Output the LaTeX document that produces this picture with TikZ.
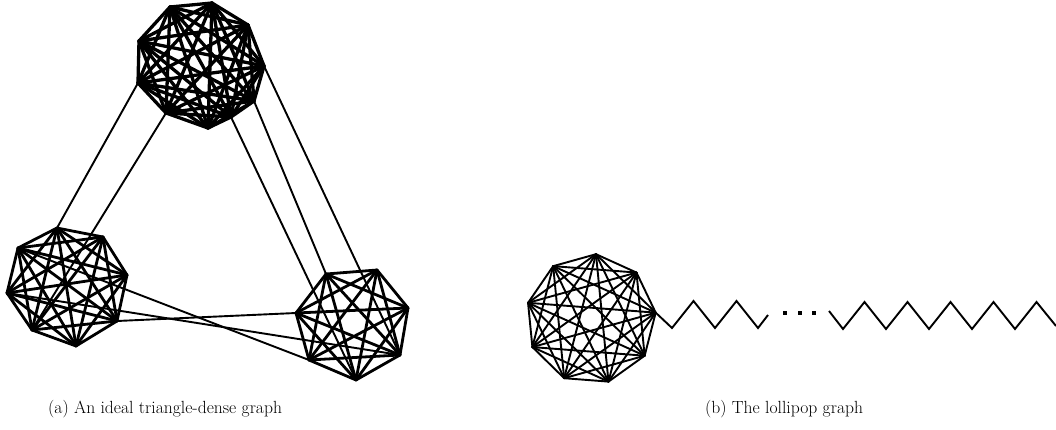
\documentclass[tikz,border=0pt]{standalone}
\usetikzlibrary{calc}
\begin{document}
\begin{tikzpicture}[x=1pt,y=-1pt,
  dense/.style={line width=3.3pt, line cap=round, line join=round},
  clique/.style={line width=2.8pt, line cap=round},
  bridge/.style={line width=1.9pt},
  lolli/.style={line width=1.9pt, line cap=round},
  zig/.style={line width=1.9pt, line join=miter},
  caption/.style={font=\fontsize{17.6}{21}\selectfont, anchor=base west, inner sep=0pt}]
\useasboundingbox (0,0) rectangle (1056,430);

% ---- top clique (10 vertices)
\coordinate (t0) at (264,66);
\coordinate (t1) at (254,101);
\coordinate (t2) at (231,117);
\coordinate (t3) at (208,128);
\coordinate (t4) at (166,113);
\coordinate (t5) at (138,83);
\coordinate (t6) at (139,41);
\coordinate (t7) at (170,7);
\coordinate (t8) at (212,3);
\coordinate (t9) at (248,25);
\foreach \i in {0,...,8}{
  \pgfmathtruncatemacro{\ni}{\i+1}
  \foreach \j in {\ni,...,9}{\draw[dense] (t\i) -- (t\j);}
}

% ---- bottom-left clique (8 vertices)
\coordinate (b0) at (57,228);
\coordinate (b1) at (103,237);
\coordinate (b2) at (127,275);
\coordinate (b3) at (117,321);
\coordinate (b4) at (76,346);
\coordinate (b5) at (32,330);
\coordinate (b6) at (7,293);
\coordinate (b7) at (18,248);
\foreach \i in {0,...,6}{
  \pgfmathtruncatemacro{\ni}{\i+1}
  \foreach \j in {\ni,...,7}{\draw[clique] (b\i) -- (b\j);}
}

% ---- bottom-right clique (7 vertices)
\coordinate (r0) at (326,274);
\coordinate (r1) at (377,270);
\coordinate (r2) at (408,308);
\coordinate (r3) at (400,355);
\coordinate (r4) at (356,380);
\coordinate (r5) at (309,360);
\coordinate (r6) at (296,313);
\foreach \i in {0,...,5}{
  \pgfmathtruncatemacro{\ni}{\i+1}
  \foreach \j in {\ni,...,6}{\draw[clique] (r\i) -- (r\j);}
}

% ---- edges between the cliques
\draw[bridge] (t5) -- (b0);
\draw[bridge] (t4) -- (b5);
\draw[bridge] (t2) -- (r4);
\draw[bridge] (t1) -- (r0);
\draw[bridge] (t0) -- (r3);
\draw[bridge] (b7) -- (r5);
\draw[bridge] (b6) -- (r3);
\draw[bridge] (b3) -- (r6);

% ---- lollipop: K9 head
\foreach \k in {0,...,8}{
  \coordinate (l\k) at ({591+65*cos(-85.6+40*\k)},{319+65*sin(-85.6+40*\k)});
}
\foreach \i in {0,...,7}{
  \pgfmathtruncatemacro{\ni}{\i+1}
  \foreach \j in {\ni,...,8}{\draw[lolli] (l\i) -- (l\j);}
}

% ---- lollipop: path (stick)
\coordinate (zA) at (768,315);
\coordinate (zB) at (829,311);
\coordinate (zC) at (1056,326);
\draw[zig] (l2) -- (672,328) -- (693.5,301) -- (715,328) -- (736.5,301)
  -- (758,328) -- (zA);
\draw[zig] (zB) -- (843,329) -- (864.5,302) -- (886,329) -- (907.5,302)
  -- (929,329) -- (950.5,302) -- (972,329) -- (993.5,302) -- (1015,329)
  -- (1036.5,302) -- (zC);
\foreach \x in {785,800,814}{\fill (\x-2.4,310.6) rectangle (\x+2.4,315.4);}

% ---- captions
\node[caption] (capa) at (48,413) {(a) An ideal triangle-dense graph};
\node[caption] (capb) at (705,413) {(b) The lollipop graph};
\end{tikzpicture}
\end{document}
